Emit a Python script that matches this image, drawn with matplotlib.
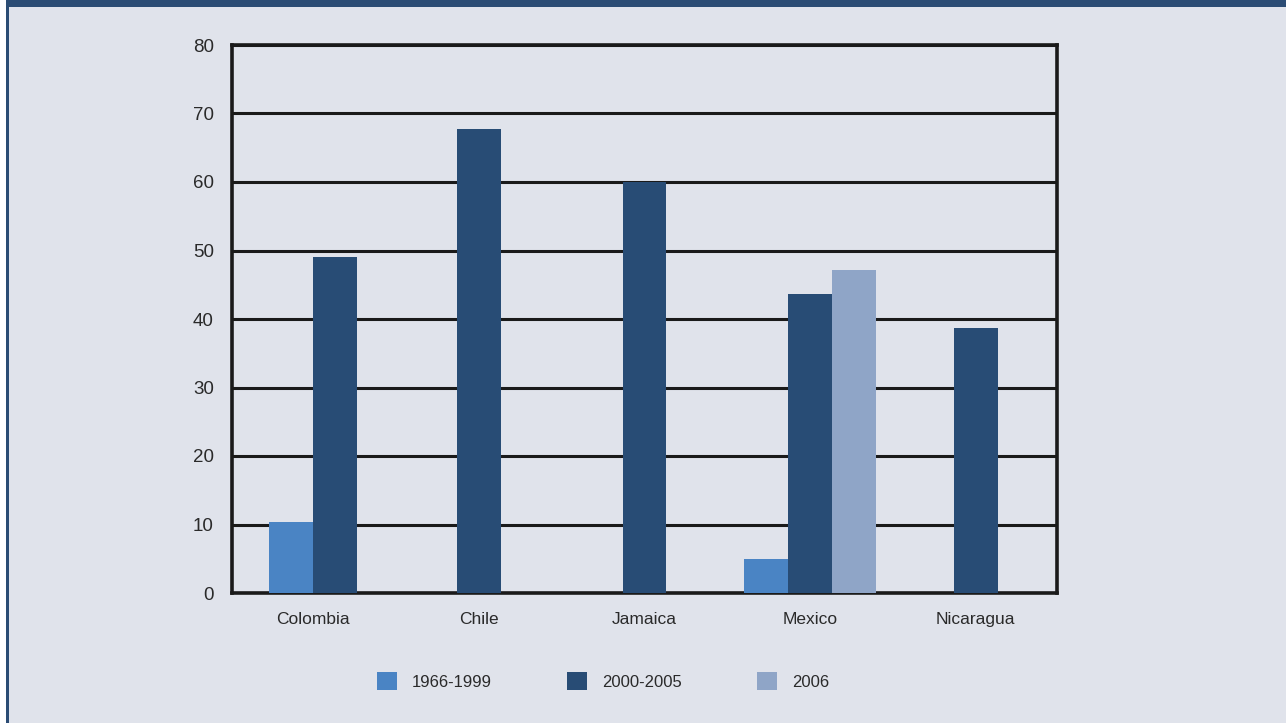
import matplotlib.pyplot as plt
import numpy as np
from matplotlib.patches import Rectangle, Patch

countries = ["Colombia", "Chile", "Jamaica", "Mexico", "Nicaragua"]
series = ["1966-1999", "2000-2005", "2006"]
v_1966_1999 = [10.4, None, None, 5.0, None]
v_2000_2005 = [49.0, 67.8, 60.0, 43.7, 38.7]
v_2006 = [None, None, None, 47.1, None]
yticks = [0, 10, 20, 30, 40, 50, 60, 70, 80]

colors = ["#4a84c4", "#284c75", "#8fa5c7"]
bg = "#e0e3eb"
border = "#2b4c74"

plt.rcParams['font.family'] = ['Liberation Sans', 'DejaVu Sans']

fig = plt.figure(figsize=(12.86, 7.23), dpi=100)
fig.patch.set_facecolor(bg)
# frame: top band and left edge
fig.patches.append(Rectangle((0, 1 - 7 / 723), 1, 7 / 723, transform=fig.transFigure,
                             facecolor=border, edgecolor='none', zorder=0))
fig.patches.append(Rectangle((0, 0), 6 / 1286, 1, transform=fig.transFigure,
                             facecolor='white', edgecolor='none', zorder=0))
fig.patches.append(Rectangle((6 / 1286, 0), 3 / 1286, 1, transform=fig.transFigure,
                             facecolor=border, edgecolor='none', zorder=0))

ax = fig.add_axes([232 / 1286, 1 - 593 / 723, 825 / 1286, 548 / 723])
ax.set_facecolor(bg)

width = 0.265
all_vals = [v_1966_1999, v_2000_2005, v_2006]
for i in range(len(countries)):
    present = [s for s in range(3) if all_vals[s][i] is not None]
    n = len(present)
    for k, s in enumerate(present):
        x = i + (k - (n - 1) / 2) * width
        ax.bar(x, all_vals[s][i], width=width, color=colors[s], zorder=3)

ax.set_xlim(-0.49, 4.49)
ax.set_ylim(0, 80)
ax.set_yticks(yticks)
ax.set_xticks(range(len(countries)))
ax.set_xticklabels(countries)
ax.tick_params(axis='both', length=0, labelsize=12.5, colors='#2a2a2a')
ax.tick_params(axis='y', pad=13, labelsize=13.5)
ax.tick_params(axis='x', pad=14)
ax.yaxis.grid(True, color='#1a1a1a', linewidth=2.2, zorder=1)
ax.set_axisbelow(True)
for sp in ax.spines.values():
    sp.set_linewidth(2.6)
    sp.set_color('#1a1a1a')

handles = [Patch(facecolor=c, edgecolor='none') for c in colors]
fig.legend(handles, series, loc='center', bbox_to_anchor=(0.469, 1 - 681 / 723), ncol=3,
           frameon=False, fontsize=12, handlelength=1.2, handleheight=1.35,
           handletextpad=0.9, columnspacing=4.5, labelcolor='#2a2a2a')

fig.savefig("out.png", dpi=100, facecolor=bg)
